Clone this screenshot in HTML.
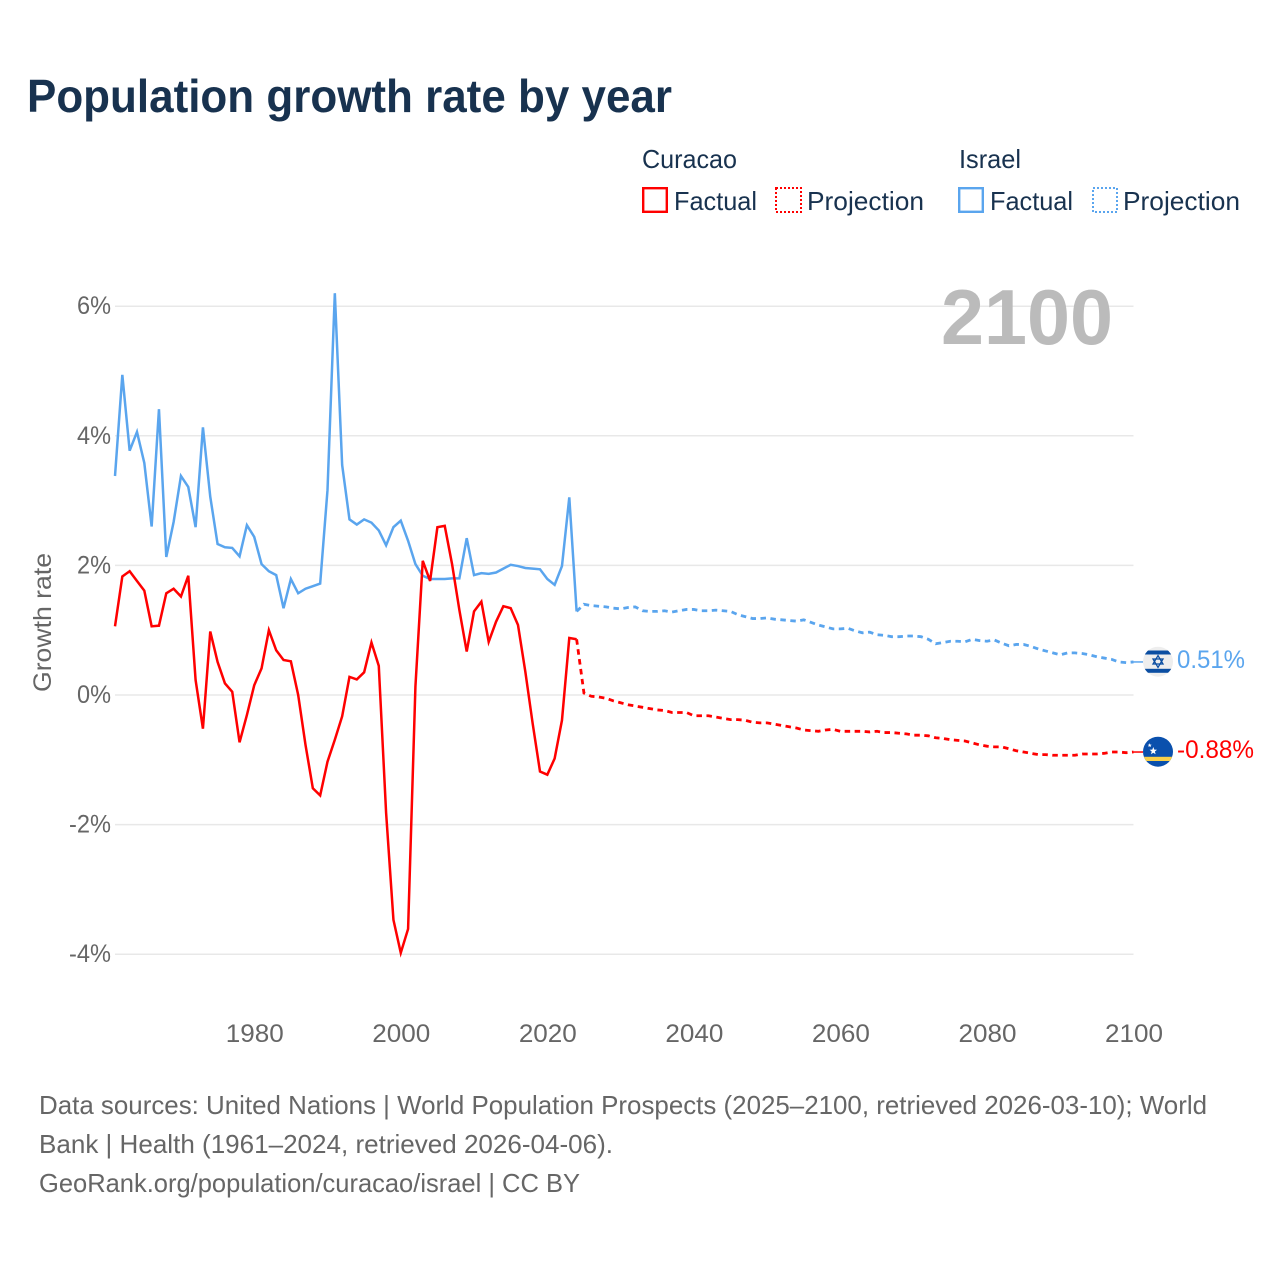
<!DOCTYPE html>
<html lang="en">
<head>
<meta charset="utf-8">
<title>Population growth rate by year</title>
<style>
html,body{margin:0;padding:0;background:#fff;}
svg{display:block;font-family:"Liberation Sans",sans-serif;}
</style>
</head>
<body>
<svg id="chart" width="1280" height="1280" viewBox="0 0 1280 1280" xmlns="http://www.w3.org/2000/svg">
  <rect width="1280" height="1280" fill="#fff"/>
  <text x="27" y="112" font-size="46" font-weight="700" fill="#18324f" textLength="645" lengthAdjust="spacingAndGlyphs">Population growth rate by year</text>

  <g font-size="26" fill="#18324f">
    <text x="642" y="168" textLength="95" lengthAdjust="spacingAndGlyphs">Curacao</text>
    <text x="959" y="168" textLength="62" lengthAdjust="spacingAndGlyphs">Israel</text>
    <rect x="643.2" y="188.2" width="23.6" height="23.6" fill="none" stroke="#ff0000" stroke-width="2.4"/>
    <text x="674" y="210" textLength="83" lengthAdjust="spacingAndGlyphs">Factual</text>
    <rect x="776" y="188" width="25" height="24" fill="none" stroke="#ff0000" stroke-width="2" stroke-dasharray="2 2"/>
    <text x="807" y="210" textLength="117" lengthAdjust="spacingAndGlyphs">Projection</text>
    <rect x="959.2" y="188.2" width="23.6" height="23.6" fill="none" stroke="#5aa5ee" stroke-width="2.4"/>
    <text x="990" y="210" textLength="83" lengthAdjust="spacingAndGlyphs">Factual</text>
    <rect x="1093" y="188" width="24" height="24" fill="none" stroke="#5aa5ee" stroke-width="2" stroke-dasharray="2 2"/>
    <text x="1123" y="210" textLength="117" lengthAdjust="spacingAndGlyphs">Projection</text>
  </g>

  <g id="grid"></g>
  <g id="yticks"></g>
  <g id="xticks"></g>
  <text transform="translate(51,622.5) rotate(-90)" text-anchor="middle" font-size="25" fill="#666" textLength="139" lengthAdjust="spacingAndGlyphs">Growth rate</text>
  <text x="941" y="344" font-size="78" font-weight="700" fill="#bbbbbb" textLength="172" lengthAdjust="spacingAndGlyphs">2100</text>

  <g id="series"></g>

  <defs>
    <clipPath id="clip-israel"><circle cx="1158" cy="661.7" r="15"/></clipPath>
    <clipPath id="clip-curacao"><circle cx="1158" cy="751.7" r="15"/></clipPath>
  </defs>
  <g clip-path="url(#clip-israel)">
    <rect x="1143" y="646" width="30" height="31" fill="#eeeeee"/>
    <rect x="1143" y="650.5" width="30" height="4" fill="#0b4ea2"/>
    <rect x="1143" y="668.8" width="30" height="4" fill="#0b4ea2"/>
    <polygon points="1158,655.6 1163,664 1153,664" fill="none" stroke="#0b4ea2" stroke-width="1.3"/>
    <polygon points="1158,667.4 1163,659 1153,659" fill="none" stroke="#0b4ea2" stroke-width="1.3"/>
  </g>
  <g clip-path="url(#clip-curacao)">
    <rect x="1143" y="736" width="30" height="32" fill="#0a50ad"/>
    <rect x="1143" y="756.8" width="30" height="4.2" fill="#f9d04a"/>
    <polygon points="1153.3,747 1154.3,749.6 1157,749.8 1154.9,751.5 1155.6,754.2 1153.3,752.7 1151,754.2 1151.7,751.5 1149.6,749.8 1152.3,749.6" fill="#fff"/>
    <polygon points="1149.7,743.2 1150.3,744.6 1151.7,744.7 1150.6,745.6 1151,747 1149.7,746.2 1148.4,747 1148.8,745.6 1147.7,744.7 1149.1,744.6" fill="#fff"/>
  </g>
  <g id="endlabels"></g>

  <g font-size="26" fill="#666">
    <text x="39" y="1114" textLength="1168" lengthAdjust="spacingAndGlyphs">Data sources: United Nations | World Population Prospects (2025–2100, retrieved 2026-03-10); World</text>
    <text x="39" y="1153" textLength="574" lengthAdjust="spacingAndGlyphs">Bank | Health (1961–2024, retrieved 2026-04-06).</text>
    <text x="39" y="1192" textLength="541" lengthAdjust="spacingAndGlyphs">GeoRank.org/population/curacao/israel | CC BY</text>
  </g>
</svg>
<script>
const factualStartYear = 1961;
const projectionStartYear = 2024;
const yTickValues = [6, 4, 2, 0, -2, -4];
const xTickYears = [1980, 2000, 2020, 2040, 2060, 2080, 2100];

const israelFactual = [3.38,4.94,3.77,4.06,3.58,2.60,4.41,2.13,2.67,3.38,3.21,2.59,4.13,3.06,2.33,2.28,2.27,2.14,2.62,2.44,2.02,1.91,1.85,1.34,1.79,1.57,1.64,1.68,1.72,3.16,6.20,3.55,2.71,2.63,2.71,2.66,2.54,2.31,2.59,2.69,2.38,2.02,1.84,1.79,1.79,1.79,1.80,1.80,2.42,1.85,1.88,1.87,1.89,1.95,2.01,1.99,1.96,1.95,1.94,1.79,1.70,1.99,3.05,1.29];
const israelProjection = [1.29,1.40,1.38,1.37,1.36,1.34,1.33,1.35,1.36,1.30,1.29,1.29,1.30,1.28,1.30,1.32,1.32,1.30,1.30,1.31,1.30,1.29,1.24,1.21,1.18,1.18,1.19,1.17,1.16,1.15,1.14,1.16,1.12,1.08,1.05,1.02,1.02,1.03,0.99,0.96,0.97,0.93,0.92,0.90,0.90,0.91,0.91,0.90,0.86,0.79,0.81,0.83,0.83,0.82,0.86,0.84,0.83,0.85,0.80,0.76,0.78,0.78,0.75,0.71,0.68,0.65,0.62,0.65,0.65,0.64,0.62,0.59,0.57,0.55,0.51,0.50,0.51];
const curacaoFactual = [1.06,1.83,1.91,1.76,1.61,1.06,1.07,1.57,1.64,1.52,1.84,0.23,-0.52,0.98,0.51,0.18,0.05,-0.73,-0.31,0.15,0.41,1.00,0.69,0.54,0.52,0.00,-0.77,-1.44,-1.55,-1.03,-0.69,-0.33,0.28,0.24,0.35,0.81,0.45,-1.82,-3.47,-3.98,-3.61,0.13,2.07,1.76,2.59,2.61,2.02,1.31,0.67,1.29,1.44,0.82,1.13,1.37,1.34,1.08,0.36,-0.44,-1.18,-1.23,-0.98,-0.39,0.88,0.86];
const curacaoProjection = [0.86,0.03,-0.02,-0.03,-0.05,-0.09,-0.12,-0.15,-0.17,-0.19,-0.21,-0.23,-0.24,-0.27,-0.27,-0.27,-0.32,-0.32,-0.32,-0.34,-0.36,-0.38,-0.38,-0.39,-0.42,-0.43,-0.43,-0.45,-0.47,-0.49,-0.51,-0.54,-0.55,-0.56,-0.54,-0.53,-0.56,-0.56,-0.56,-0.56,-0.57,-0.56,-0.58,-0.58,-0.59,-0.60,-0.62,-0.62,-0.63,-0.66,-0.67,-0.69,-0.70,-0.71,-0.74,-0.77,-0.79,-0.80,-0.80,-0.83,-0.86,-0.88,-0.90,-0.92,-0.92,-0.93,-0.93,-0.93,-0.93,-0.91,-0.91,-0.91,-0.90,-0.88,-0.88,-0.89,-0.88];

const SVG_NS = 'http://www.w3.org/2000/svg';
const plotLeft = 115, plotRight = 1133.5;
const xScale = year => plotLeft + (year - factualStartYear) * (plotRight - plotLeft) / (2100 - factualStartYear);
const yScale = value => 695 - value * 64.8;
const formatPercent = value => value.toFixed(2) + '%';

function make(tag, attrs, parent, content) {
  const el = document.createElementNS(SVG_NS, tag);
  for (const key in attrs) el.setAttribute(key, attrs[key]);
  if (content !== undefined) el.textContent = content;
  parent.appendChild(el);
  return el;
}

function buildPoints(values, startYear) {
  return values.map((v, i) => xScale(startYear + i).toFixed(2) + ',' + yScale(v).toFixed(2)).join(' ');
}

const gridGroup = document.getElementById('grid');
const yTickGroup = document.getElementById('yticks');
yTickValues.forEach(value => {
  const line = make('line', {x1: plotLeft, x2: plotRight, y1: yScale(value), y2: yScale(value), stroke: '#e8e8e8', 'stroke-width': 1.5}, gridGroup);
  
  
  const label = value + '%';
  const tick = make('text', {x: 111, y: yScale(value) + 8, 'text-anchor': 'end', 'font-size': 25, fill: '#666', textLength: value < 0 ? 42 : 34, lengthAdjust: 'spacingAndGlyphs'}, yTickGroup, label);
  
  
});

const xTickGroup = document.getElementById('xticks');
xTickYears.forEach(year => {
  const tick = make('text', {x: xScale(year) + 0.5, y: 1042, 'text-anchor': 'middle', 'font-size': 25, fill: '#666', textLength: 58, lengthAdjust: 'spacingAndGlyphs'}, xTickGroup, String(year));
  
  
});

const seriesGroup = document.getElementById('series');
const endGroup = document.getElementById('endlabels');

function drawSeries(factual, projection, color, slug, labelWidth) {
  const solid = make('polyline', {points: buildPoints(factual, factualStartYear), fill: 'none', stroke: color, 'stroke-width': 2.5, 'stroke-linejoin': 'miter'}, seriesGroup);
  
  
  const dashed = make('polyline', {points: buildPoints(projection, projectionStartYear), fill: 'none', stroke: color, 'stroke-width': 2.8, 'stroke-dasharray': '5.5 4.5'}, seriesGroup);
  
  
  const last = projection[projection.length - 1];
  const connector = make('line', {x1: plotRight, x2: 1143, y1: yScale(last), y2: yScale(last), stroke: color, 'stroke-width': 1.5}, seriesGroup);
  
  
  const endLabel = make('text', {x: 1177, y: yScale(last) + 6, 'font-size': 25, fill: color, textLength: labelWidth, lengthAdjust: 'spacingAndGlyphs'}, endGroup, formatPercent(last));
  
  
}

drawSeries(israelFactual, israelProjection, '#5aa5ee', 'israel', 68);
drawSeries(curacaoFactual, curacaoProjection, '#ff0000', 'curacao', 77);
</script>
</body>
</html>
